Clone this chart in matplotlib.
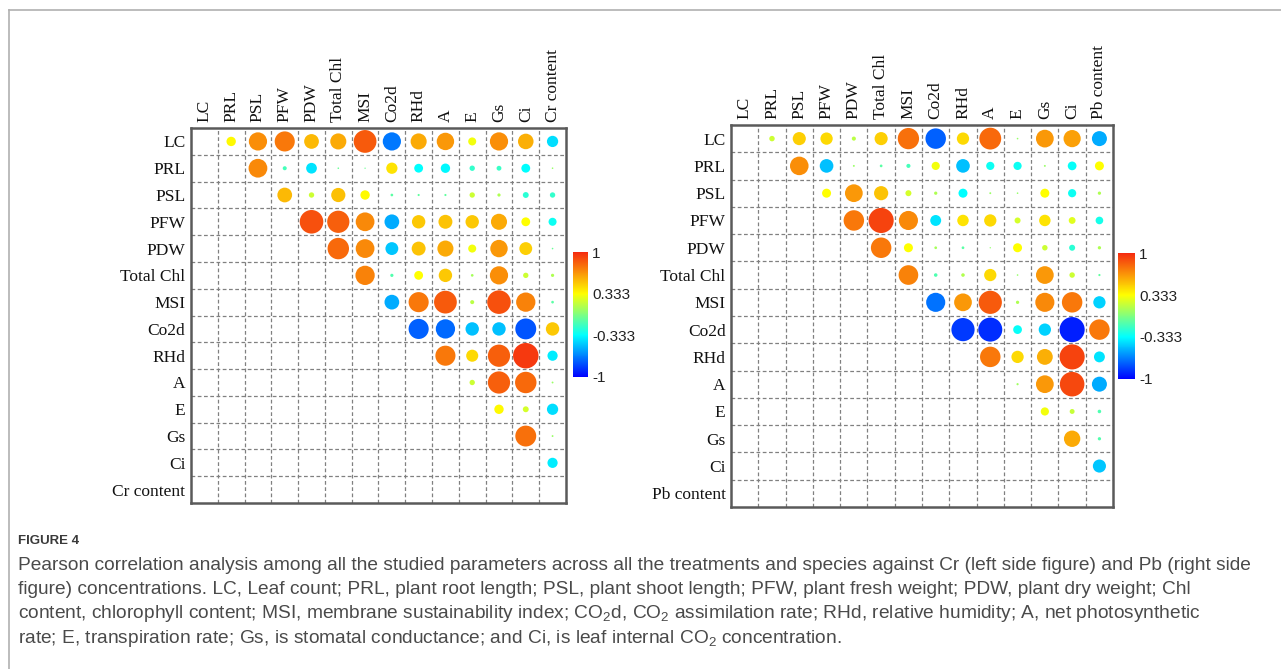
import numpy as np
import matplotlib
matplotlib.use('Agg')
import matplotlib.pyplot as plt
from matplotlib.patches import Circle
from matplotlib.colors import LinearSegmentedColormap, Normalize
from matplotlib.lines import Line2D

plt.rcParams['mathtext.fontset'] = 'custom'
plt.rcParams['mathtext.rm'] = 'Liberation Sans'
plt.rcParams['mathtext.it'] = 'Liberation Sans:italic'

# variable names (rows == columns)
cr_labels = ['LC', 'PRL', 'PSL', 'PFW', 'PDW', 'Total Chl', 'MSI', 'Co2d',
             'RHd', 'A', 'E', 'Gs', 'Ci', 'Cr content']
pb_labels = ['LC', 'PRL', 'PSL', 'PFW', 'PDW', 'Total Chl', 'MSI', 'Co2d',
             'RHd', 'A', 'E', 'Gs', 'Ci', 'Pb content']

# upper triangle, row i holds r with columns i+1 .. end
cr_rows = [
    [0.35, 0.68, 0.75, 0.55, 0.60, 0.85, -0.68, 0.60, 0.65, 0.30, 0.68, 0.58, -0.42],
    [0.70, -0.15, -0.40, -0.06, -0.05, 0.42, -0.33, -0.35, -0.20, -0.18, -0.33, 0.06],
    [0.55, 0.20, 0.53, 0.35, -0.10, -0.08, -0.08, 0.20, 0.12, -0.22, -0.20],
    [0.88, 0.83, 0.70, -0.55, 0.50, 0.52, 0.50, 0.60, 0.33, -0.30],
    [0.80, 0.70, -0.48, 0.52, 0.60, 0.30, 0.65, 0.48, -0.06],
    [0.72, -0.12, 0.33, 0.50, 0.10, 0.68, 0.20, 0.12],
    [-0.55, 0.75, 0.85, 0.15, 0.88, 0.72, -0.10],
    [-0.75, -0.72, -0.50, -0.50, -0.78, 0.50],
    [0.75, 0.45, 0.83, 0.95, -0.38],
    [0.20, 0.83, 0.80, 0.07],
    [0.35, 0.22, -0.42],
    [0.78, 0.07],
    [-0.38],
]

pb_rows = [
    [0.20, 0.48, 0.45, 0.15, 0.48, 0.78, -0.75, 0.45, 0.80, 0.06, 0.65, 0.63, -0.55],
    [0.68, -0.50, 0.07, -0.10, -0.15, 0.30, -0.50, -0.30, -0.30, 0.07, -0.32, 0.33],
    [0.33, 0.65, 0.52, 0.22, 0.12, -0.33, 0.07, 0.06, 0.33, -0.30, 0.12],
    [0.75, 0.92, 0.70, -0.40, 0.42, 0.45, 0.22, 0.42, 0.25, -0.28],
    [0.75, 0.33, 0.10, -0.10, 0.05, 0.33, 0.20, -0.22, 0.12],
    [0.72, -0.13, 0.13, 0.45, 0.06, 0.65, 0.20, -0.08],
    [-0.70, 0.65, 0.85, 0.12, 0.70, 0.75, -0.45],
    [-0.85, -0.88, -0.32, -0.45, -0.92, 0.75],
    [0.75, 0.45, 0.58, 0.92, -0.40],
    [0.08, 0.65, 0.90, -0.55],
    [0.30, 0.18, -0.13],
    [0.60, -0.12],
    [-0.48],
]

cbar_ticks = [1, 0.333, -0.333, -1]
cbar_ticklabels = ['1', '0.333', '-0.333', '-1']

cmap = LinearSegmentedColormap.from_list(
    'corr', ['#0000ff', '#00ffff', '#ffff00', '#f52a10'])
norm = Normalize(-1, 1)


def draw_corr(ax, labels, rows):
    n = len(labels)
    for i, row in enumerate(rows):
        for k, r in enumerate(row):
            j = i + 1 + k
            ax.add_patch(Circle((j + 0.5, i + 0.5), abs(r) * 0.5,
                                facecolor=cmap(norm(r)), edgecolor='none'))
    for g in range(1, n):
        ax.axhline(g, color='#808080', lw=0.9, ls=(0, (3, 2)), zorder=0)
        ax.axvline(g, color='#808080', lw=0.9, ls=(0, (3, 2)), zorder=0)
    ax.set_xlim(0, n)
    ax.set_ylim(n, 0)
    ax.set_xticks(np.arange(n) + 0.5)
    ax.set_yticks(np.arange(n) + 0.5)
    ax.set_xticklabels(labels, rotation=90, family='Liberation Serif', fontsize=12.5)
    ax.set_yticklabels(labels, family='Liberation Serif', fontsize=12.5)
    ax.xaxis.tick_top()
    ax.tick_params(length=0, pad=4, colors='#111111')
    for s in ax.spines.values():
        s.set_color('#5a5a5a')
        s.set_linewidth(1.8)


def draw_cbar(cax):
    sm = plt.cm.ScalarMappable(cmap=cmap, norm=norm)
    cb = fig.colorbar(sm, cax=cax, ticks=cbar_ticks)
    cb.ax.set_yticklabels(cbar_ticklabels, family='Liberation Sans', fontsize=11)
    cb.outline.set_visible(False)
    cb.ax.tick_params(length=0, pad=3, colors='#222222')


fig = plt.figure(figsize=(12.81, 6.69), dpi=100)

ax1 = fig.add_axes([0.1491, 0.2481, 0.2927, 0.5605])
draw_corr(ax1, cr_labels, cr_rows)
cax1 = fig.add_axes([0.4473, 0.4365, 0.0117, 0.1868])
draw_cbar(cax1)

ax2 = fig.add_axes([0.5707, 0.2422, 0.2982, 0.5710])
draw_corr(ax2, pb_labels, pb_rows)
cax2 = fig.add_axes([0.8728, 0.4335, 0.0133, 0.1883])
draw_cbar(cax2)

# page frame
fig.add_artist(Line2D([9 / 1281, 1], [1 - 10 / 669, 1 - 10 / 669],
                      transform=fig.transFigure, color='#b0b0b0', lw=1.2))
fig.add_artist(Line2D([9 / 1281, 9 / 1281], [0, 1 - 10 / 669],
                      transform=fig.transFigure, color='#b0b0b0', lw=1.2))

# caption
fig.text(18 / 1281, 1 - 541 / 669, 'FIGURE 4', family='Liberation Sans',
         fontsize=9.5, fontweight='bold', color='#3a3a3a', va='center')
caption = [
    'Pearson correlation analysis among all the studied parameters across all the treatments and species against Cr (left side figure) and Pb (right side',
    'figure) concentrations. LC, Leaf count; PRL, plant root length; PSL, plant shoot length; PFW, plant fresh weight; PDW, plant dry weight; Chl',
    'content, chlorophyll content; MSI, membrane sustainability index; CO$_2$d, CO$_2$ assimilation rate; RHd, relative humidity; A, net photosynthetic',
    'rate; E, transpiration rate; Gs, is stomatal conductance; and Ci, is leaf internal CO$_2$ concentration.',
]
for k, line in enumerate(caption):
    fig.text(18 / 1281, 1 - (565 + 24.5 * k) / 669, line, family='Liberation Sans',
             fontsize=13.8, color='#4a4a4a', va='center')

plt.savefig('out.png', dpi=100)
